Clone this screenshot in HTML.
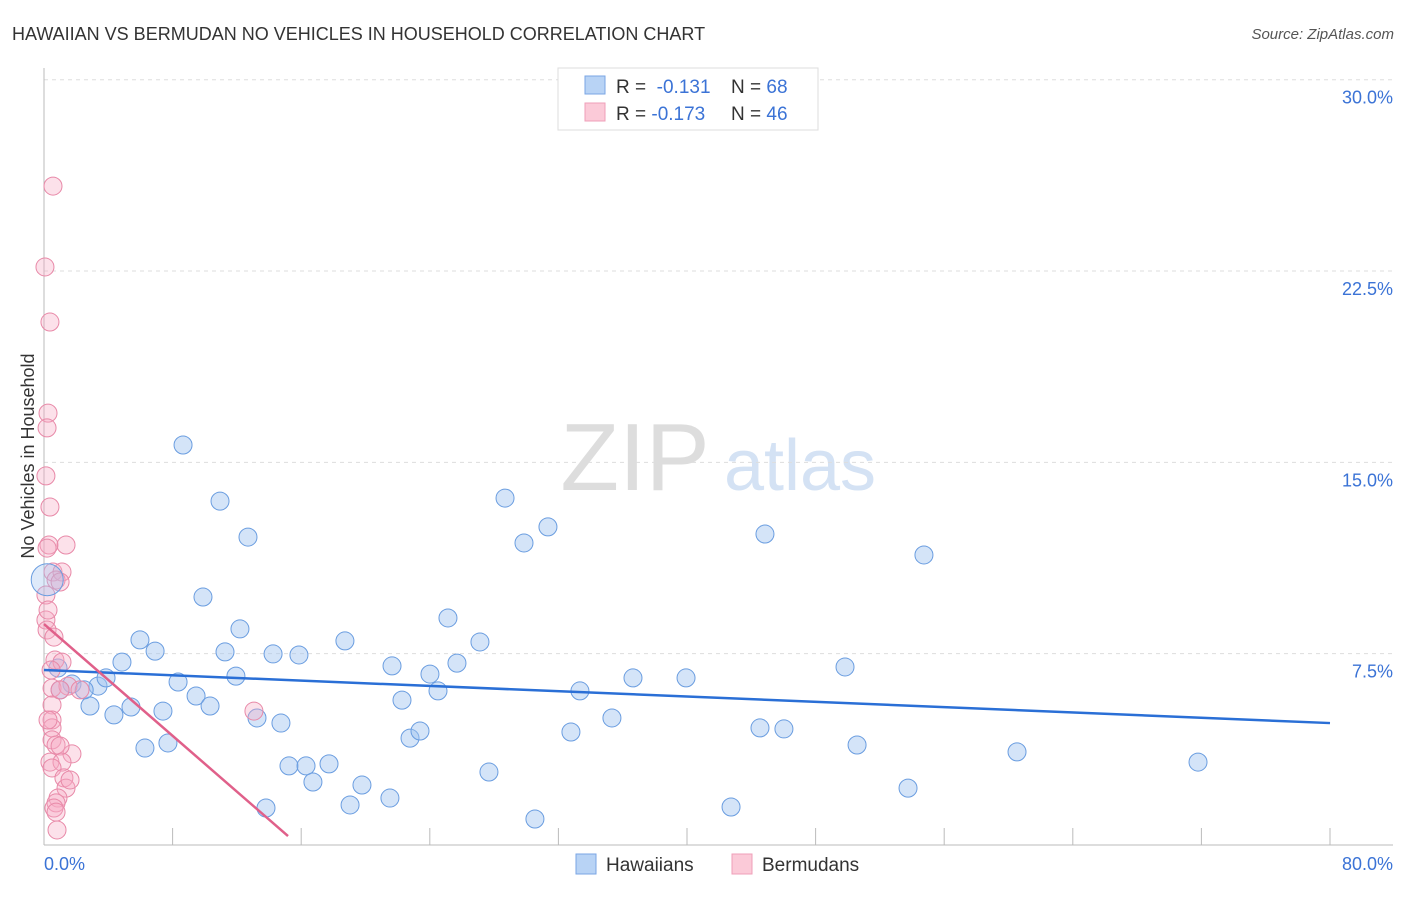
<!DOCTYPE html>
<html><head><meta charset="utf-8"><style>
body{margin:0;background:#fff;font-family:"Liberation Sans",sans-serif;}
svg text{font-family:"Liberation Sans",sans-serif;}
</style></head><body>
<svg id="chart" width="1406" height="892" xmlns="http://www.w3.org/2000/svg">
<text x="12" y="40" font-size="18" fill="#333">HAWAIIAN VS BERMUDAN NO VEHICLES IN HOUSEHOLD CORRELATION CHART</text>
<text x="1394" y="39" font-size="15" fill="#555" font-style="italic" text-anchor="end">Source: ZipAtlas.com</text>
<g>
<text x="635" y="490" font-size="96" fill="#ddd" font-family="Liberation Serif" text-anchor="middle">ZIP</text>
<text x="800" y="490" font-size="72" fill="#d4e2f4" text-anchor="middle">atlas</text>
</g>
<g id="grid"></g>
<g id="axes"></g>
<g id="points"></g>
<g id="trends"></g>
<text transform="translate(34,456) rotate(-90)" font-size="18" fill="#333" text-anchor="middle">No Vehicles in Household</text>
<text x="44" y="870" font-size="18" fill="#3b73d6">0.0%</text>
<text x="1393" y="870" font-size="18" fill="#3b73d6" text-anchor="end">80.0%</text>
<g>
<rect x="558" y="68" width="260" height="62" fill="#fff" stroke="#ddd"/>
<rect x="585" y="76" width="20" height="18" fill="#b8d3f5" stroke="#7aa6e4"/>
<rect x="585" y="103" width="20" height="18" fill="#fbcad8" stroke="#ef9fb8"/>
<text x="616" y="93" font-size="19" fill="#333">R = <tspan fill="#3b73d6">&#160;-0.131</tspan><tspan x="731">N = </tspan><tspan fill="#3b73d6">68</tspan></text>
<text x="616" y="120" font-size="19" fill="#333">R = <tspan fill="#3b73d6">-0.173</tspan><tspan x="731">N = </tspan><tspan fill="#3b73d6">46</tspan></text>
</g>
<g>
<rect x="576" y="854" width="20" height="20" fill="#b8d3f5" stroke="#7aa6e4"/>
<text x="606" y="871" font-size="19" fill="#333">Hawaiians</text>
<rect x="732" y="854" width="20" height="20" fill="#fbcad8" stroke="#ef9fb8"/>
<text x="762" y="871" font-size="19" fill="#333">Bermudans</text>
</g>
</svg>
<script>
const yTicks=[7.5,15,22.5,30];
const yTickLabels=["7.5%","15.0%","22.5%","30.0%"];
const xTicks=[0,8,16,24,32,40,48,56,64,72,80];
const hawX=[8.65,10.95,12.69,9.89,12.19,5.97,6.91,4.85,11.26,14.25,15.86,8.34,11.94,9.46,10.33,5.41,7.40,4.35,2.86,3.36,1.74,3.86,0.87,6.28,7.71,13.25,14.74,15.24,16.30,17.73,16.73,19.78,19.04,21.52,13.81,18.72,21.65,22.27,22.77,23.39,24.01,24.51,25.69,25.13,27.12,28.68,29.86,31.35,27.68,30.54,32.78,33.34,35.33,36.64,39.94,42.74,44.54,46.03,44.85,49.83,50.58,53.75,54.74,60.53,71.79,1.0,2.5];
const hawY=[15.68,13.48,12.07,9.72,8.47,8.04,7.60,7.17,7.57,7.49,7.45,6.39,6.62,5.84,5.45,5.41,5.25,5.10,5.45,6.23,6.31,6.55,6.94,3.80,4.00,4.98,4.78,3.10,3.10,3.18,2.47,2.35,1.57,1.84,1.45,8.00,7.02,5.68,4.19,4.47,6.70,6.04,7.13,8.90,7.96,13.60,11.84,12.47,2.86,1.02,4.43,6.04,4.98,6.55,6.55,1.49,4.59,4.55,12.19,6.98,3.92,2.23,11.37,3.65,3.25,6.08,6.08];
const berX=[0.56,0.06,0.37,0.25,0.19,0.12,0.37,0.31,1.37,0.19,0.56,1.12,0.75,1.00,0.12,0.19,0.62,0.68,1.12,0.44,0.50,1.49,2.24,0.50,0.50,0.50,0.50,0.75,1.74,1.00,0.37,1.12,0.50,1.24,1.37,0.87,0.75,0.62,0.75,0.81,13.06,0.12,0.25,1.0,1.62,0.25];
const berY=[25.83,22.66,20.50,16.93,16.35,14.47,13.25,11.76,11.76,11.64,10.70,10.70,10.39,10.31,8.82,8.43,8.15,7.25,7.17,6.86,6.15,6.23,6.08,5.49,4.90,4.59,4.12,3.92,3.57,3.88,3.25,3.25,3.02,2.63,2.23,1.84,1.65,1.45,1.29,0.59,5.25,9.80,4.90,6.08,2.55,9.21];
const hawTrend=[[0,6.86],[80,4.78]];
const berTrend=[[0,8.66],[15.18,0.35]];
const NS="http://www.w3.org/2000/svg";
const X=v=>44+v*16.075, Y=v=>845-v*25.51;
function mk(tag,attrs,parent){const e=document.createElementNS(NS,tag);for(const k in attrs)e.setAttribute(k,attrs[k]);parent.appendChild(e);return e;}
const grid=document.getElementById('grid'),axes=document.getElementById('axes'),pts=document.getElementById('points'),tr=document.getElementById('trends');
yTicks.forEach((t,i)=>{
 const l=mk('line',{x1:44,x2:1393,y1:Y(t),y2:Y(t),stroke:'#ddd','stroke-dasharray':'4,4'},grid);
 
 
 const tx=mk('text',{x:1393,y:Y(t)+24,'font-size':18,fill:'#3b73d6','text-anchor':'end'},grid);
 tx.textContent=yTickLabels[i];
 
 
});
const ya=mk('line',{x1:44,x2:44,y1:68,y2:845,stroke:'#bbb'},axes);


const xa=mk('line',{x1:44,x2:1393,y1:845,y2:845,stroke:'#bbb'},axes);


xTicks.forEach(t=>{
 const l=mk('line',{x1:X(t),x2:X(t),y1:828,y2:845,stroke:'#bbb'},axes);
 
 
});
hawX.forEach((v,i)=>{
 const c=mk('circle',{cx:X(v),cy:Y(hawY[i]),r:9,fill:'rgba(160,196,240,0.45)',stroke:'#6a9de0','stroke-width':1},pts);
 
 
});
berX.forEach((v,i)=>{
 const c=mk('circle',{cx:X(v),cy:Y(berY[i]),r:9,fill:'rgba(245,170,195,0.35)',stroke:'#e889a8','stroke-width':1},pts);
 
 
});
const big=mk('circle',{cx:X(0.2),cy:Y(10.4),r:16,fill:'rgba(160,196,240,0.35)',stroke:'#6a9de0'},pts);


const hl=mk('line',{x1:X(hawTrend[0][0]),y1:Y(hawTrend[0][1]),x2:X(hawTrend[1][0]),y2:Y(hawTrend[1][1]),stroke:'#2a6fd6','stroke-width':2.5},tr);


const bl=mk('line',{x1:X(berTrend[0][0]),y1:Y(berTrend[0][1]),x2:X(berTrend[1][0]),y2:Y(berTrend[1][1]),stroke:'#e0608a','stroke-width':2.5},tr);


</script>
</body></html>
